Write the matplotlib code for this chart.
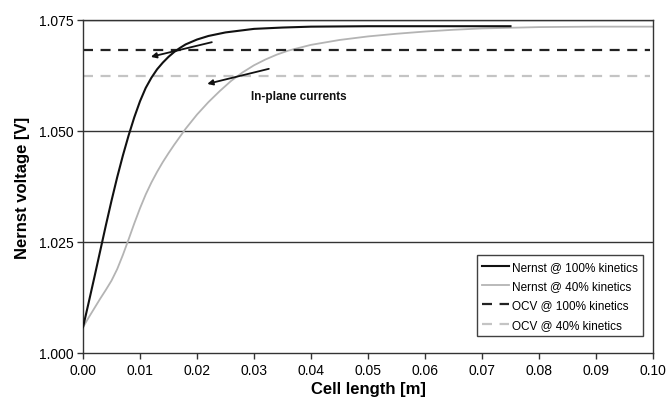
import numpy as np
import matplotlib
matplotlib.use("Agg")
import matplotlib.pyplot as plt

plt.rcParams['font.family'] = ['Liberation Sans', 'DejaVu Sans']

# Datos
x_100 = [0.000, 0.001, 0.002, 0.003, 0.004, 0.005, 0.006, 0.007, 0.008, 0.009,
         0.010, 0.011, 0.012, 0.013, 0.014, 0.015, 0.016, 0.017, 0.018, 0.020,
         0.022, 0.025, 0.030, 0.035, 0.040, 0.050, 0.075]
v_100 = [1.0058, 1.0114, 1.0171, 1.0229, 1.0287, 1.0343, 1.0396, 1.0445, 1.0490, 1.0531,
         1.0567, 1.0597, 1.0620, 1.0639, 1.0654, 1.0667, 1.0678, 1.0687, 1.0695, 1.0706,
         1.0714, 1.0722, 1.0730, 1.0733, 1.0735, 1.0736, 1.0736]

x_40 = [0.000, 0.001, 0.002, 0.003, 0.004, 0.005, 0.006, 0.007, 0.008, 0.009,
        0.010, 0.011, 0.012, 0.013, 0.014, 0.015, 0.016, 0.017, 0.018, 0.020,
        0.022, 0.024, 0.026, 0.028, 0.030, 0.032, 0.034, 0.036, 0.040, 0.045,
        0.050, 0.055, 0.060, 0.065, 0.070, 0.080, 0.090, 0.100]
v_40 = [1.0058, 1.0080, 1.0101, 1.0122, 1.0142, 1.0163, 1.0189, 1.0221, 1.0256, 1.0292,
        1.0326, 1.0357, 1.0384, 1.0408, 1.0430, 1.0450, 1.0469, 1.0487, 1.0505, 1.0537,
        1.0565, 1.0590, 1.0613, 1.0632, 1.0648, 1.0661, 1.0672, 1.0681, 1.0694, 1.0705,
        1.0713, 1.0719, 1.0724, 1.0728, 1.0731, 1.0734, 1.0735, 1.0735]

ocv_100 = 1.0683
ocv_40 = 1.0624
ocv_x = [0.0, 0.0995]

labels = ['Nernst @ 100% kinetics', 'Nernst @ 40% kinetics',
          'OCV @ 100% kinetics', 'OCV @ 40% kinetics']

fig = plt.figure(figsize=(6.7, 4.1), dpi=100)
ax = fig.add_axes([0.1239, 0.1366, 0.8507, 0.8122])

# lineas de cuadricula horizontales
for yv in [1.025, 1.050, 1.075]:
    ax.axhline(yv, color='#333333', lw=1.0, zorder=1)

ax.plot(x_100, v_100, color='#111111', lw=1.5, label=labels[0], zorder=3,
        solid_joinstyle='round')
ax.plot(x_40, v_40, color='#b4b4b4', lw=1.3, label=labels[1], zorder=2,
        solid_joinstyle='round')
ax.plot(ocv_x, [ocv_100, ocv_100], color='#222222', lw=1.6, dashes=(4.5, 3.4),
        label=labels[2], zorder=2)
ax.plot(ocv_x, [ocv_40, ocv_40], color='#c4c4c4', lw=1.6, dashes=(4.5, 3.4),
        label=labels[3], zorder=2)

# flechas y texto
ax.annotate('', xy=(0.0119, 1.0667), xytext=(0.0226, 1.0700),
            arrowprops=dict(arrowstyle='-|>', color='#111111', lw=1.3,
                            mutation_scale=8, shrinkA=0, shrinkB=0))
ax.annotate('', xy=(0.0218, 1.0606), xytext=(0.0326, 1.0640),
            arrowprops=dict(arrowstyle='-|>', color='#111111', lw=1.3,
                            mutation_scale=8, shrinkA=0, shrinkB=0))
ax.text(0.0295, 1.0579, 'In-plane currents', fontsize=8.5, fontweight='bold',
        va='center', ha='left', color='#111111')

ax.set_xlim(0, 0.10)
ax.set_ylim(1.000, 1.075)
ax.set_xticks(np.arange(0, 0.1001, 0.01))
ax.set_xticklabels(['%.2f' % v for v in np.arange(0, 0.1001, 0.01)])
ax.set_yticks([1.000, 1.025, 1.050, 1.075])
ax.set_yticklabels(['1.000', '1.025', '1.050', '1.075'])
ax.tick_params(axis='both', labelsize=10, direction='out', length=4,
               width=1, color='#333333', pad=3)

for s in ax.spines.values():
    s.set_color('#333333')
    s.set_linewidth(1.0)

ax.set_xlabel('Cell length [m]', fontsize=12, fontweight='bold', labelpad=3)
ax.set_ylabel('Nernst voltage [V]', fontsize=12, fontweight='bold', labelpad=6)

leg = ax.legend(loc='lower right', fontsize=8.5, frameon=True, fancybox=False,
                edgecolor='#111111', handlelength=2.3, handletextpad=0.2,
                labelspacing=0.62, borderpad=0.45, borderaxespad=0,
                bbox_to_anchor=(0.982, 0.051))
leg.get_frame().set_linewidth(1.0)

fig.savefig('out.png', dpi=100)
